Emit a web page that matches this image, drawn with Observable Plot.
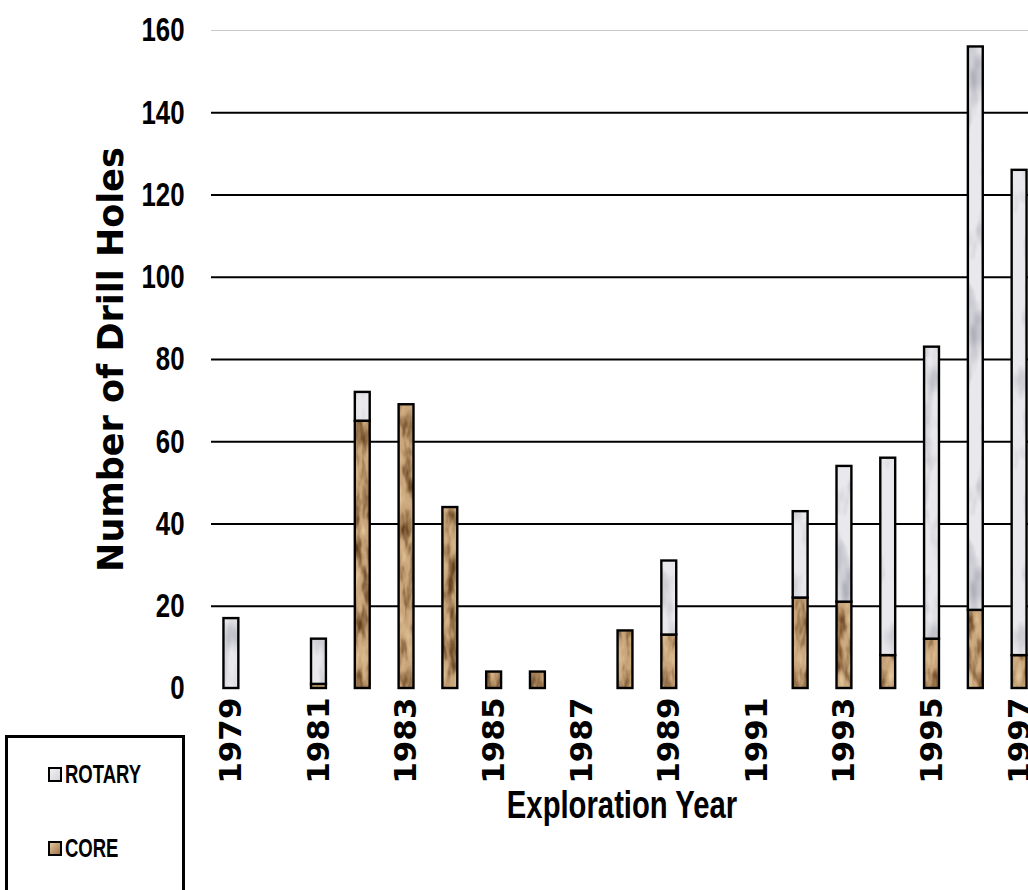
<!DOCTYPE html>
<html>
<head>
<meta charset="utf-8">
<script src="https://cdn.jsdelivr.net/npm/d3@7"></script>
<script src="https://cdn.jsdelivr.net/npm/@observablehq/plot@0.6"></script>
<style>
  html, body { margin: 0; padding: 0; background: #fff; overflow: hidden; }
  #wrap { position: relative; width: 1028px; height: 890px; overflow: hidden; }
  #wrap svg { overflow: hidden; display: block; }
  #legend {
    position: absolute; left: 5px; top: 735px; width: 180px; height: 200px;
    border: 3px solid #000; background: #fff; box-sizing: border-box;
    font-family: "Liberation Sans", Arial, sans-serif;
    font-weight: bold; font-size: 25px; color: #000;
  }
  .item { position: absolute; left: 40px; display: flex; align-items: center; }
  .sw { width: 10px; height: 11px; border: 2px solid #000; margin-right: 3px; flex: none; }
  .lab { display: inline-block; transform: scaleX(0.74); transform-origin: left center; }
</style>
</head>
<body>
<div id="wrap">
  <div id="legend">
    <div class="item" style="top:22px"><div class="sw" style="background:linear-gradient(135deg,#f2f2f5,#d4d4da)"></div><span class="lab">ROTARY</span></div>
    <div class="item" style="top:96px"><div class="sw" style="background:linear-gradient(135deg,#e2c59c,#a07448)"></div><span class="lab">CORE</span></div>
  </div>
</div>
<script>
// ---- data ----
const years  = [1979,1980,1981,1982,1983,1984,1985,1986,1987,1988,1989,1990,1991,1992,1993,1994,1995,1996,1997];
const core   = [0,   0,   1,   65,  69,  44,  4,   4,   0,   14,  13,  0,   0,   22,  21,  8,   12,  19,  8];
const rotary = [17,  0,   11,  7,   0,   0,   0,   0,   0,   0,   18,  0,   0,   21,  33,  48,  71,  137, 118];
const series = ["CORE", "ROTARY"];
const yTicks = [0, 20, 40, 60, 80, 100, 120, 140, 160];
const xTicks = [1979, 1981, 1983, 1985, 1987, 1989, 1991, 1993, 1995, 1997];

const rows = [];
years.forEach((yr, i) => {
  rows.push({year: yr, type: "CORE", value: core[i]});
  rows.push({year: yr, type: "ROTARY", value: rotary[i]});
});

const sans = "'Liberation Sans', Arial, sans-serif";
const wide = "'DejaVu Sans', Verdana, sans-serif";

const chart = Plot.plot({
  width: 1028,
  height: 890,
  marginTop: 30,
  marginBottom: 202,
  marginLeft: 211,
  marginRight: 0,
  x: {domain: years, range: [209, 1041], paddingInner: 0.66, paddingOuter: 0.33, round: false},
  y: {domain: [0, 160]},
  color: {domain: series, range: ["url(#coreTex)", "url(#rotTex)"]},
  marks: [
    Plot.ruleY(yTicks.filter(d => d > 0 && d < 160), {stroke: "#000", strokeWidth: 2}),
    Plot.ruleY([160], {stroke: "#c8c8c8", strokeWidth: 1}),
    Plot.barY(rows, Plot.stackY({
      filter: d => d.value > 0,
      x: "year", y: "value", fill: "type",
      stroke: "#000", strokeWidth: 2.4, inset: 0
    })),
    Plot.axisY({ticks: yTicks, tickSize: 0, tickPadding: 27, label: null,
      fontFamily: sans, fontWeight: "bold", fontSize: 34, fill: "#000"}),
    Plot.axisX({ticks: xTicks, tickSize: 0, tickPadding: 9, tickRotate: -90, label: null,
      tickFormat: d => String(d),
      fontFamily: wide, fontWeight: "bold", fontSize: 31, fill: "#000"}),
    Plot.text(["Number of Drill Holes"], {frameAnchor: "left", dx: -100, rotate: -90,
      textAnchor: "middle", lineAnchor: "middle",
      fontFamily: wide, fontWeight: "bold", fontSize: 35, fill: "#000"})
  ]
});

const root = d3.select(chart);

// x-axis title
root.append("text")
  .attr("transform", "translate(622,808) scale(0.75,1)")
  .attr("text-anchor", "middle")
  .attr("dominant-baseline", "middle")
  .attr("font-family", sans)
  .attr("font-weight", "bold")
  .attr("font-size", 39)
  .attr("fill", "#000")
  .text("Exploration Year");

// condensed look for horizontal tick labels
root.selectAll('g[aria-label="y-axis tick label"] text').each(function() {
  const t = this.getAttribute("transform") || "";
  this.setAttribute("transform", t + " scale(0.76,1)");
});

const defs = root.insert("defs", ":first-child");
defs.html(`
  <filter id="woodF" x="0" y="0" width="100%" height="100%" color-interpolation-filters="sRGB">
    <feTurbulence type="fractalNoise" baseFrequency="0.09 0.03" numOctaves="3" seed="7" stitchTiles="stitch" result="n"/>
    <feColorMatrix in="n" type="matrix" result="dark"
      values="0 0 0 0 0.40  0 0 0 0 0.26  0 0 0 0 0.12  3.4 0 0 0 -1.55"/>
    <feColorMatrix in="n" type="matrix" result="light"
      values="0 0 0 0 0.93  0 0 0 0 0.83  0 0 0 0 0.66  -3.2 0 0 0 1.35"/>
    <feMerge><feMergeNode in="light"/><feMergeNode in="dark"/></feMerge>
  </filter>
  <filter id="marbleF" x="0" y="0" width="100%" height="100%" color-interpolation-filters="sRGB">
    <feTurbulence type="fractalNoise" baseFrequency="0.05 0.02" numOctaves="3" seed="3" stitchTiles="stitch" result="n"/>
    <feColorMatrix in="n" type="matrix"
      values="0 0 0 0 0.70  0 0 0 0 0.70  0 0 0 0 0.74  2.6 0 0 0 -1.25"/>
  </filter>
  <pattern id="coreTex" patternUnits="userSpaceOnUse" width="64" height="256">
    <rect width="64" height="256" fill="#c9a57b"/>
    <rect width="64" height="256" fill="#000" filter="url(#woodF)"/>
  </pattern>
  <pattern id="rotTex" patternUnits="userSpaceOnUse" width="64" height="256">
    <rect width="64" height="256" fill="#e9e9ed"/>
    <rect width="64" height="256" fill="#000" filter="url(#marbleF)"/>
  </pattern>
`);

document.getElementById("wrap").prepend(chart);
</script>
</body>
</html>
